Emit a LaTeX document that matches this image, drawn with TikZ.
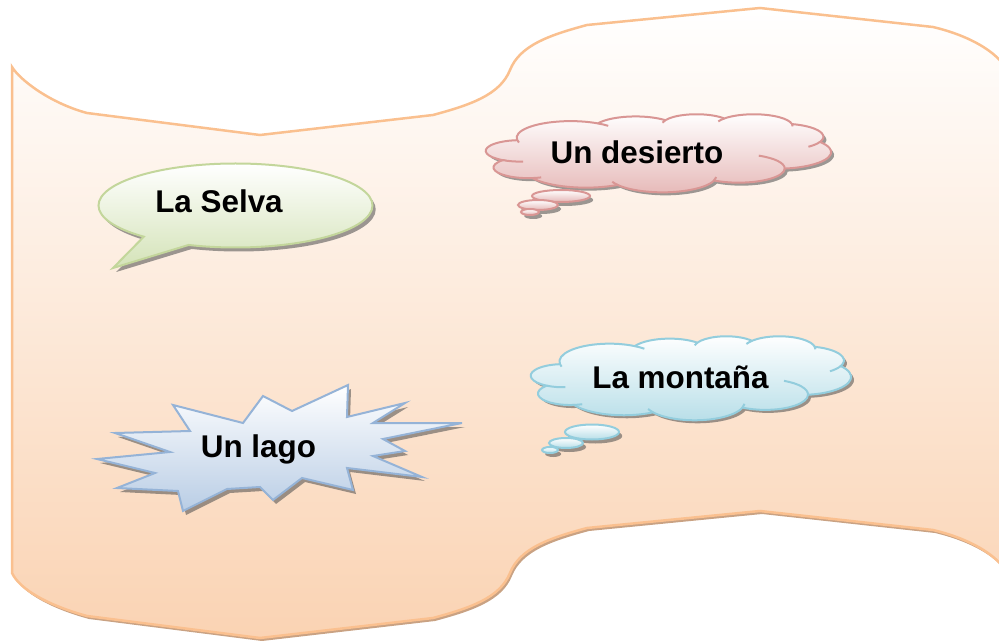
\documentclass[tikz,border=0pt]{standalone}
\usepackage{fontspec}
\setmainfont{Liberation Sans}
\usetikzlibrary{shapes.callouts,shapes.geometric,shadows}
\definecolor{waveline}{HTML}{FAC08F}
\definecolor{wavefill}{HTML}{FAD3B3}
\definecolor{waveshadow}{HTML}{C9A283}
\definecolor{greenline}{HTML}{C3D69B}
\definecolor{greenfill}{HTML}{D4E3B8}
\definecolor{pinkline}{HTML}{D99694}
\definecolor{pinkfill}{HTML}{E6B9B8}
\definecolor{blueline}{HTML}{95B3D7}
\definecolor{bluefill}{HTML}{B9CDE5}
\definecolor{aqualine}{HTML}{93CDDD}
\definecolor{aquafill}{HTML}{B7DEE8}
\tikzset{
  shadowed/.style={drop shadow={shadow xshift=1.6pt, shadow yshift=-2pt, opacity=0.55, fill=black!70}},
  shadowfill/.style={fill=black!70, opacity=0.55},
  labeltext/.style={font=\bfseries\fontsize{15.7}{18}\selectfont, anchor=base, inner sep=0pt},
  pinkshape/.style={draw=pinkline, line width=1pt, top color=white, bottom color=pinkfill, inner sep=0pt},
  aquashape/.style={draw=aqualine, line width=1pt, top color=white, bottom color=aquafill, inner sep=0pt},
}
% Office-style cloud outline in a 4320 x 4320 box
\def\cloudpath{(390,1437)
 arc[start angle=-187.75, end angle=-59.63, x radius=675.3, y radius=919.0]
 arc[start angle=-152.02, end angle=-45.46, x radius=533.3, y radius=726.7]
 arc[start angle=-153.48, end angle=-37.34, x radius=436.5, y radius=594.5]
 arc[start angle=-139.69, end angle=-10.21, x radius=485.7, y radius=659.5]
 arc[start angle=-74.77, end angle=23.21, x radius=533.3, y radius=727.3]
 arc[start angle=-37.54, end angle=81.86, x radius=677.5, y radius=922.0]
 arc[start angle=0.46, end angle=121.98, x radius=578.5, y radius=786.7]
 arc[start angle=16.85, end angle=146.25, x radius=675.2, y radius=921.5]
 arc[start angle=58.98, end angle=150.20, x radius=772.0, y radius=1054.3]
 arc[start angle=-276.69, end angle=-136.88, x radius=436.0, y radius=591.8]
 arc[start angle=-239.64, end angle=-95.89, x radius=434.5, y radius=594.5] -- cycle}
\def\cloudinner{
 (464.5,2634.6) arc[start angle=85.54, end angle=120.36, x radius=434.5, y radius=594.5]
 (691.0,3508.9) arc[start angle=68.23, end angle=83.31, x radius=436.0, y radius=591.8]
 (1647.9,3926.6) arc[start angle=146.25, end angle=158.47, x radius=675.2, y radius=921.5]
 (2882.2,3490.8) arc[start angle=4.74, end angle=16.85, x radius=675.2, y radius=921.5]
 (3415.4,2307.2) arc[start angle=-64.02, end angle=0.46, x radius=578.5, y radius=786.7]
 (4181.6,1546.2) arc[start angle=23.21, end angle=49.65, x radius=533.3, y radius=727.3]
 (3831.6,557.8) arc[start angle=-10.21, end angle=0.82, x radius=485.7, y radius=659.5]
 (2908.9,409.4) arc[start angle=-156.28, end angle=-139.69, x radius=485.7, y radius=659.5]
 (2209.7,482.2) arc[start angle=-167.72, end angle=-153.48, x radius=436.5, y radius=594.5]
 (1400.6,520.3) arc[start angle=-59.63, end angle=-45.74, x radius=675.3, y radius=919.0]
 (412.7,1578.9) arc[start angle=163.19, end angle=172.25, x radius=675.3, y radius=919.0]}
\begin{document}
\begin{tikzpicture}[x=0.5pt,y=-0.5pt]
\useasboundingbox (0,0) rectangle (999,641);
\clip (0,0) rectangle (999,641);
\def\wavepath{(12,67) .. controls (20,80) and (50,103) .. (87,113) -- (260,135) -- (433,115)
  .. controls (470,105) and (500,95) .. (510,70) .. controls (520,45) and (550,35) .. (587,25)
  -- (760,8) -- (933,27) .. controls (975,37) and (1002,56) .. (1008,73)
  -- (1008,576) .. controls (1002,559) and (975,540) .. (933,530) -- (760,511) -- (587,528)
  .. controls (550,538) and (520,548) .. (510,573) .. controls (500,598) and (470,608) .. (433,618)
  -- (260,638) -- (87,616) .. controls (50,606) and (20,590) .. (12,573) -- cycle}
% wave banner
\fill[waveshadow, shift={(2,3)}] \wavepath;
\path[draw=waveline, line width=1.25pt, top color=white, bottom color=wavefill] \wavepath;

% La Selva speech bubble
\node[ellipse callout, draw=greenline, line width=1pt, top color=white, bottom color=greenfill,
      minimum width=137pt, minimum height=42pt, inner sep=0pt,
      callout absolute pointer={(113,268)}, callout pointer arc=22, shadowed] (selva) at (235.5,205.5) {};
\node[labeltext] (selvaT) at (219,213) {La Selva};

% Un desierto thought cloud
\begin{scope}[shift={(489,117)}, x=0.039931pt, y=-0.0090278pt]
  \fill[shadowfill] \cloudpath;
\end{scope}
\begin{scope}[shift={(486,114)}, x=0.039931pt, y=-0.0090278pt]
  \path[pinkshape] \cloudpath;
  \draw[pinkline, line width=1pt] \cloudinner;
\end{scope}
\node[ellipse, minimum width=29pt, minimum height=6pt, pinkshape, shadowed] (d1) at (561,196) {};
\node[ellipse, minimum width=20pt, minimum height=5pt, pinkshape, shadowed] (d2) at (538,205) {};
\node[ellipse, minimum width=9pt, minimum height=3pt, pinkshape, shadowed] (d3) at (530,212) {};
\node[labeltext] (desiertoT) at (637,164) {Un desierto};

% La montana thought cloud
\begin{scope}[shift={(534,339)}, x=0.037037pt, y=-0.0097222pt]
  \fill[shadowfill] \cloudpath;
\end{scope}
\begin{scope}[shift={(531,336)}, x=0.037037pt, y=-0.0097222pt]
  \path[aquashape] \cloudpath;
  \draw[aqualine, line width=1pt] \cloudinner;
\end{scope}
\node[ellipse, minimum width=27pt, minimum height=7.5pt, aquashape, shadowed] (m1) at (592,432) {};
\node[ellipse, minimum width=17pt, minimum height=5pt, aquashape, shadowed] (m2) at (566,443) {};
\node[ellipse, minimum width=8pt, minimum height=3pt, aquashape, shadowed] (m3) at (550,450) {};
\node[labeltext] (montanaT) at (680.5,388) {La montaña};

% Un lago explosion
\def\burst{(97,459) -- (170,452) -- (115,433) -- (190,431) -- (173,405) -- (243,423) -- (263,396) -- (292,411) -- (348,385) -- (347,417) -- (405,403) -- (373,423) -- (462,423) -- (383,439) -- (405,451) -- (373,456) -- (422,477) -- (347,468) -- (353,490) -- (302,478) -- (273,500) -- (260,487) -- (227,489) -- (183,511) -- (178,491) -- (117,488) -- (155,473) -- cycle}
\fill[shadowfill, shift={(3,4)}] \burst;
\path[draw=blueline, line width=1pt, line join=miter, top color=white, bottom color=bluefill] \burst;
\node[labeltext] (lagoT) at (258.5,457) {Un lago};
\end{tikzpicture}
\end{document}
